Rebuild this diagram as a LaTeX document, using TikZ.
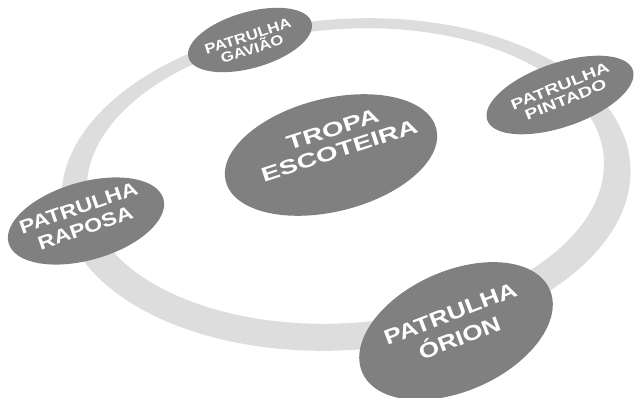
\documentclass[tikz,border=0pt]{standalone}
\usepackage{fontspec}
\setmainfont{Liberation Sans}
\usetikzlibrary{shapes.geometric}

\definecolor{discgray}{RGB}{128,128,128}
\definecolor{ringgray}{RGB}{221,221,221}

\tikzset{
        disc/.style={ellipse, fill=discgray, inner sep=0pt},
        patrol/.style={text=white, align=center, inner sep=0pt, transform shape}
}

\begin{document}
\begin{tikzpicture}[x=1pt, y=1pt]
        \useasboundingbox (0, 0) rectangle (636, 397);
        % the ring
        \fill[ringgray, even odd rule, rotate around={4:(346, 212.5)}]
                (346, 212.5) ellipse [x radius=285, y radius=165.5]
                (346, 221) ellipse [x radius=259, y radius=147];

        \node[disc, rotate=16, minimum width=128, minimum height=56] (gaviao) at (250, 357) {};
        \node[disc, rotate=19, minimum width=154, minimum height=64] (pintado) at (560, 302) {};
        \node[disc, rotate=14, minimum width=217, minimum height=113] (tropa) at (331, 242) {};
        \node[disc, rotate=16, minimum width=161, minimum height=78] (raposa) at (86, 176) {};
        \node[disc, rotate=24, minimum width=205, minimum height=120] (orion) at (456, 66) {};

        \node[patrol, rotate=18, xscale=1.2, font=\bfseries\fontsize{14}{13.5}\selectfont]
                at ([shift={(0, -3)}]gaviao.center) {PATRULHA\\GAVIÃO};
        \node[patrol, rotate=22, xscale=1.35, font=\bfseries\fontsize{14.5}{15}\selectfont]
                at ([shift={(3, 2)}]pintado.center) {PATRULHA\\PINTADO};
        \node[patrol, rotate=18, xscale=1.4, font=\bfseries\fontsize{20}{22}\selectfont]
                at ([shift={(5, 15)}]tropa.center) {TROPA\\ESCOTEIRA};
        \node[patrol, rotate=19, xscale=1.22, font=\bfseries\fontsize{19}{21}\selectfont]
                at ([shift={(-4, 3)}]raposa.center) {PATRULHA\\RAPOSA};
        \node[patrol, rotate=21, xscale=1.25, font=\bfseries\fontsize{21}{26}\selectfont]
                at ([shift={(-1, 5)}]orion.center) {PATRULHA\\ÓRION};
\end{tikzpicture}
\end{document}
